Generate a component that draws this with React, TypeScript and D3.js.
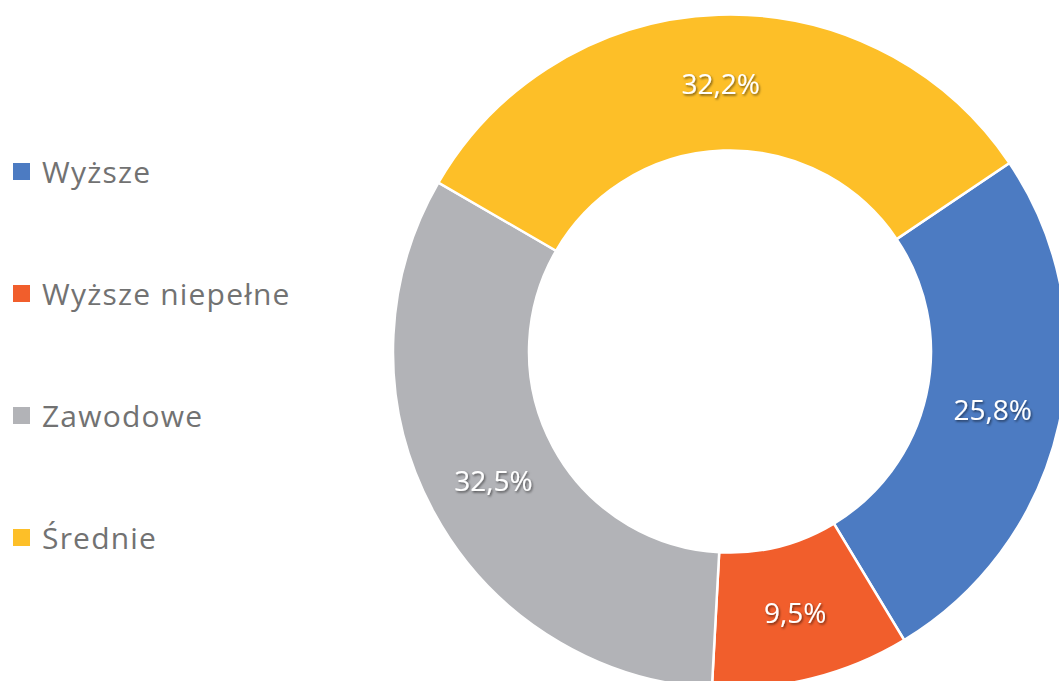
import React from 'react';
import * as d3 from 'd3';

const categories = ['Wyższe', 'Wyższe niepełne', 'Zawodowe', 'Średnie'];
const values = [25.8, 9.5, 32.5, 32.2];
const labels = ['25,8%', '9,5%', '32,5%', '32,2%'];
const colors = ['#4C7BC2', '#F15E2C', '#B2B3B7', '#FDBF28'];

const width = 1059;
const height = 681;
const cx = 730;
const cy = 351.5;
const outerR = 337;
const innerR = 201;
const startDeg = 56;

export default function App() {
  const pie = d3.pie<number>()
    .sort(null)
    .startAngle((startDeg * Math.PI) / 180)
    .endAngle((startDeg * Math.PI) / 180 + 2 * Math.PI);
  const arcs = pie(values);

  const arc = d3.arc<d3.PieArcDatum<number>>()
    .innerRadius(innerR)
    .outerRadius(outerR);

  // labels sit in the middle of the ring
  const labelArc = d3.arc<d3.PieArcDatum<number>>()
    .innerRadius(269)
    .outerRadius(269);

  const legendY = d3.scalePoint<string>()
    .domain(categories)
    .range([183, 549]);

  const font = '"Segoe UI", "Open Sans", "Noto Sans", sans-serif';

  return (
    <svg
      width={width}
      height={height}
      style={{ position: 'absolute', left: 0, top: 0, background: '#fff' }}
    >
      <defs>
        <filter id="shadow" x="-20%" y="-20%" width="140%" height="140%">
          <feDropShadow dx="1.2" dy="1.5" stdDeviation="0.9" floodColor="#000" floodOpacity="0.55" />
        </filter>
      </defs>
      <g transform={`translate(${cx},${cy})`}>
        {arcs.map((d, i) => (
          <path key={i} d={arc(d) || ''} fill={colors[i]} stroke="#fff" strokeWidth={2.5} />
        ))}
        {arcs.map((d, i) => {
          const [x, y] = labelArc.centroid(d);
          return (
            <text
              key={'l' + i}
              x={x}
              y={y}
              textAnchor="middle"
              dominantBaseline="central"
              fill="#fff"
              fontFamily={font}
              fontSize={28}
              filter="url(#shadow)"
            >
              {labels[i]}
            </text>
          );
        })}
      </g>
      <g>
        {categories.map((c, i) => {
          const y = legendY(c) || 0;
          return (
            <g key={c}>
              <rect x={13} y={y - 20} width={17} height={17} fill={colors[i]} />
              <text
                x={42}
                y={y}
                fill="#727272"
                fontFamily={font}
                fontSize={30}
                letterSpacing={1.2}
              >
                {c}
              </text>
            </g>
          );
        })}
      </g>
    </svg>
  );
}
